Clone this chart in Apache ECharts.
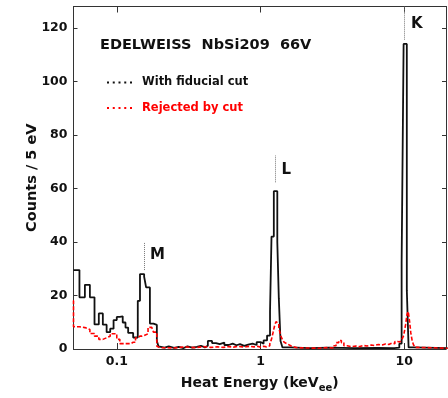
<!DOCTYPE html>
<html><head><meta charset="utf-8">
<script src="https://cdn.jsdelivr.net/npm/echarts@6/dist/echarts.min.js"></script>
<style>html,body{margin:0;padding:0;background:#fff}#c{width:448px;height:398px}</style>
</head><body><div id="c"></div>
<script>
// ---- data (keV, counts / 5 eV) ----
const xTickLabels = ['0.1', '1', '10'];
const yTickLabels = ['0', '20', '40', '60', '80', '100', '120'];

// bin left edges (last entry = right edge of last bin)
const blackEdges = [
  0.050, 0.055, 0.060, 0.065, 0.070, 0.075, 0.080, 0.085, 0.090, 0.095,
  0.100, 0.105, 0.110, 0.115, 0.120, 0.125, 0.130, 0.135, 0.140, 0.145,
  0.150, 0.155, 0.160, 0.165, 0.170, 0.175, 0.180, 0.185, 0.190, 0.195,
  0.200, 0.215, 0.230, 0.250, 0.270, 0.290, 0.310, 0.335, 0.360, 0.385,
  0.410, 0.430, 0.460, 0.490, 0.520, 0.560, 0.600, 0.640, 0.680, 0.720,
  0.770, 0.820, 0.880, 0.940, 1.000, 1.050, 1.110, 1.164, 1.192, 1.237,
  1.308, 1.340, 1.377, 1.421, 1.600, 2.200, 3.000, 4.500, 6.500, 8.500,
  9.230, 9.580, 9.890, 10.41, 10.71, 11.50, 20.0
];
const blackCounts = [
  29.5, 19.3, 24.0, 19.3, 9.2, 13.3, 9.1, 6.3, 7.6, 10.8,
  12.0, 12.2, 9.9, 8.0, 6.0, 6.0, 4.3, 4.3, 18.0, 28.0,
  28.0, 27.0, 23.0, 23.0, 9.5, 9.5, 9.0, 9.0, 3.0, 1.0,
  0.5, 1.0, 0.4, 0.8, 0.3, 1.0, 0.5, 0.8, 1.2, 0.6,
  1.2, 3.0, 2.2, 1.8, 2.4, 1.5, 2.0, 1.4, 1.8, 1.2,
  1.6, 2.0, 1.5, 2.6, 2.0, 3.2, 5.0, 14.0, 42.0, 59.0,
  40.0, 19.0, 3.0, 0.6, 0.3, 0.5, 0.3, 0.4, 0.3, 0.5,
  2.0, 32.0, 114.0, 22.0, 0.6, 0.3
];

const redEdges = [
  0.045, 0.050, 0.055, 0.060, 0.065, 0.070, 0.075, 0.080, 0.085, 0.090,
  0.095, 0.100, 0.105, 0.110, 0.115, 0.120, 0.125, 0.130, 0.135, 0.140,
  0.145, 0.150, 0.155, 0.160, 0.165, 0.170, 0.175, 0.180, 0.185, 0.190,
  0.195, 0.200, 0.250, 0.300, 0.350, 0.400, 0.450, 0.500, 0.550, 0.600,
  0.650, 0.700, 0.750, 0.800, 0.850, 0.900, 0.950, 1.000, 1.050, 1.100,
  1.160, 1.190, 1.220, 1.250, 1.280, 1.310, 1.340, 1.380, 1.420, 1.460,
  1.500, 1.550, 1.620, 1.700, 1.800, 2.000, 2.500, 2.900, 3.200, 3.350,
  3.500, 3.650, 3.800, 4.000, 4.300, 4.600, 4.900, 5.200, 5.500, 5.900,
  6.200, 6.600, 7.000, 7.400, 7.800, 8.200, 8.600, 9.000, 9.300, 9.600,
  9.900, 10.20, 10.45, 10.65, 10.90, 11.10, 11.35, 11.60, 11.90, 12.40,
  20.0
];
const redCounts = [
  18.0, 8.3, 8.0, 7.3, 5.8, 4.8, 3.6, 4.2, 4.8, 5.7,
  5.7, 3.6, 2.0, 2.0, 2.0, 2.0, 2.5, 2.5, 4.2, 4.8,
  4.8, 5.0, 5.7, 5.7, 8.1, 8.1, 8.1, 6.3, 6.3, 1.0,
  0.5, 0.4, 0.8, 0.5, 0.9, 0.6, 0.8, 0.6, 0.9, 0.7,
  1.0, 0.8, 0.9, 1.0, 0.8, 1.0, 0.7, 1.0, 0.8, 1.2,
  2.0, 3.5, 6.0, 8.5, 10.2, 9.5, 8.0, 5.0, 3.5, 2.5,
  1.8, 1.2, 0.8, 0.5, 0.4, 0.3, 0.5, 0.4, 1.2, 2.4,
  3.2, 2.4, 1.2, 0.9, 1.1, 0.9, 1.3, 1.1, 1.5, 1.3,
  1.7, 1.5, 1.9, 1.7, 2.2, 2.0, 2.8, 2.6, 3.0, 3.5,
  5.0, 9.0, 13.0, 14.0, 10.0, 6.0, 3.0, 1.5, 0.6, 0.3
];

// peak annotations (data units)
const peakNames = ['M', 'L', 'K'];
const peakLineE = [0.1564, 1.265, 10.05];
const peakLineLow = [29.5, 62.3, 115.6];
const peakLineHigh = [40.0, 72.3, 128.0];
const peakLabelE = [0.192, 1.51, 12.2];
const peakLabelY = [35.2, 67.0, 121.5];

const titleText = 'EDELWEISS  NbSi209  66V';
const seriesNames = ['With fiducial cut', 'Rejected by cut'];

// ---- build ----
function steps(edges, counts) {
  const d = [];
  for (let i = 0; i < counts.length; i++) d.push([edges[i], counts[i]]);
  d.push([edges[counts.length], counts[counts.length - 1]]);
  return d;
}
const FONT = 'DejaVu Sans';
const AX = '#333';
// five small square dots as the legend sample
const DOTS = 'path://M0,0h2v2h-2z M5.75,0h2v2h-2z M11.5,0h2v2h-2z M17.25,0h2v2h-2z M23,0h2v2h-2z';

function xFmt(v) {
  const r = Math.log10(v);
  if (Math.abs(r - Math.round(r)) < 1e-6) return xTickLabels[Math.round(r) + 1] || '';
  return '';
}
function yFmt(v) {
  return yTickLabels.indexOf(String(v)) >= 0 ? String(v) : '';
}

const chart = echarts.init(document.getElementById('c'), null, {renderer: 'canvas'});
const baseX = {
  type: 'log', logBase: 10, min: 0.05, max: 19.5,
  axisLine: {show: true, onZero: false, lineStyle: {color: AX, width: 1}},
  axisTick: {show: true, inside: true, length: 6, lineStyle: {color: AX}},
  splitLine: {show: false}
};
const baseY = {
  type: 'value', min: 0, max: 128, interval: 20,
  axisLine: {show: true, lineStyle: {color: AX, width: 1}},
  axisTick: {show: true, inside: true, length: 4, lineStyle: {color: AX}},
  splitLine: {show: false}
};
chart.setOption({
  animation: false,
  backgroundColor: '#fff',
  title: {
    text: titleText, left: 100, top: 38, padding: 0,
    textStyle: {fontFamily: FONT, fontSize: 14.5, fontWeight: 'bold', color: '#111'}
  },
  legend: {
    orient: 'vertical', left: 102, top: 71.5,
    itemWidth: 25, itemHeight: 14, itemGap: 13.6,
    symbolKeepAspect: true,
    textStyle: {fontFamily: FONT, fontSize: 11.5, fontWeight: 'bold', padding: [0, 0, 0, 5]},
    data: [
      {name: seriesNames[0], icon: DOTS, itemStyle: {color: '#111'}, textStyle: {color: '#111'}},
      {name: seriesNames[1], icon: DOTS, itemStyle: {color: '#ff0000'}, textStyle: {color: '#ff0000'}}
    ]
  },
  grid: {left: 73.5, right: 2, top: 6.5, bottom: 45.5, containLabel: false},
  xAxis: [
    Object.assign({}, baseX, {
      position: 'bottom',
      name: '{a|Heat Energy (keV}{b|ee}{a|)}',
      nameLocation: 'middle', nameGap: 24,
      nameTextStyle: {
        rich: {
          a: {fontFamily: FONT, fontSize: 14, fontWeight: 'bold', color: '#111'},
          b: {fontFamily: FONT, fontSize: 10, fontWeight: 'bold', color: '#111', verticalAlign: 'bottom', padding: [10, 0, 0, 0]}
        }
      },
      axisLabel: {show: true, margin: 6, formatter: xFmt, fontFamily: FONT, fontSize: 12.5, fontWeight: 'bold', color: '#111',
        showMinLabel: false, showMaxLabel: false}
    }),
    Object.assign({}, baseX, {position: 'top', axisLabel: {show: false}})
  ],
  yAxis: [
    Object.assign({}, baseY, {
      position: 'left',
      name: 'Counts / 5 eV', nameLocation: 'middle', nameGap: 34, nameMoveOverlap: false,
      nameTextStyle: {fontFamily: FONT, fontSize: 14.5, fontWeight: 'bold', color: '#111'},
      axisLabel: {show: true, margin: 6, formatter: yFmt, fontFamily: FONT, fontSize: 12.5, fontWeight: 'bold', color: '#111',
        showMaxLabel: false}
    }),
    Object.assign({}, baseY, {position: 'right', axisLabel: {show: false}})
  ],
  series: [
    {
      name: seriesNames[0], type: 'line', step: 'end', xAxisIndex: 0, yAxisIndex: 0,
      data: steps(blackEdges, blackCounts), symbol: 'none', showSymbol: false,
      lineStyle: {color: '#111', width: 1.8}, itemStyle: {color: '#111'}, z: 3,
      markLine: {
        silent: true, symbol: ['none', 'none'], animation: false,
        lineStyle: {type: 'dotted', color: '#777', width: 1},
        label: {show: false},
        data: peakNames.map((n, i) => [
          {coord: [peakLineE[i], peakLineLow[i]]},
          {coord: [peakLineE[i], peakLineHigh[i]]}
        ])
      },
      markPoint: {
        silent: true, symbol: 'circle', symbolSize: 1, animation: false,
        itemStyle: {color: 'rgba(0,0,0,0)'},
        label: {show: true, position: 'inside', formatter: '{b}', fontFamily: FONT, fontSize: 15, fontWeight: 'bold', color: '#111'},
        data: peakNames.map((n, i) => ({name: n, coord: [peakLabelE[i], peakLabelY[i]]}))
      }
    },
    {
      name: seriesNames[1], type: 'line', step: 'end', xAxisIndex: 0, yAxisIndex: 0,
      data: steps(redEdges, redCounts), symbol: 'none', showSymbol: false,
      lineStyle: {color: '#ff0000', width: 1.6, type: [4, 2]}, itemStyle: {color: '#ff0000'}, z: 4
    }
  ]
});
</script>
</body></html>
